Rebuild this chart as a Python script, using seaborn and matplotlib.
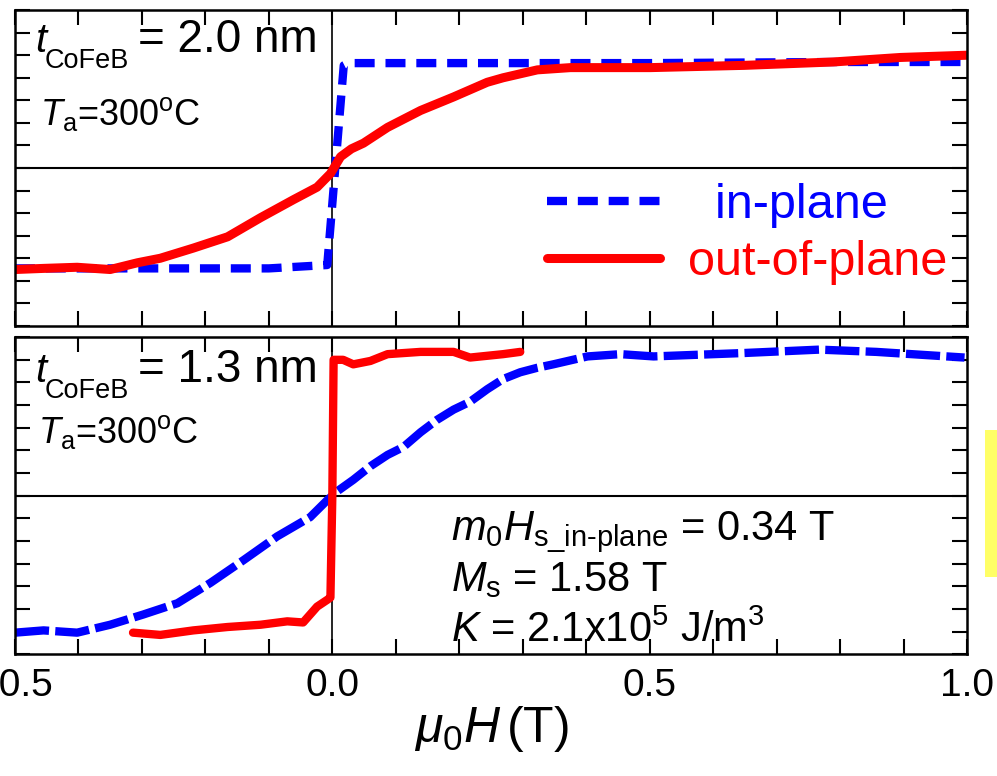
import numpy as np
import pandas as pd
import seaborn as sns
import matplotlib
matplotlib.use('Agg')
import matplotlib.pyplot as plt
from matplotlib.ticker import MultipleLocator
from matplotlib.patches import Rectangle

sns.set_style('ticks')
plt.rcParams['font.family'] = ['Liberation Sans', 'DejaVu Sans']
plt.rcParams['mathtext.fontset'] = 'custom'
plt.rcParams['mathtext.rm'] = 'Liberation Sans'
plt.rcParams['mathtext.it'] = 'Liberation Sans:italic'
plt.rcParams['axes.unicode_minus'] = True
for k in ['axes.edgecolor', 'xtick.color', 'ytick.color', 'text.color', 'axes.labelcolor']:
    plt.rcParams[k] = 'black'

# t_CoFeB = 2.0 nm
h_ip_20 = [-0.50, -0.30, -0.10, -0.008, 0.018, 0.025, 0.2, 0.5, 0.8, 1.0]
m_ip_20 = [-0.89, -0.89, -0.89, -0.86, 0.91, 0.93, 0.93, 0.93, 0.94, 0.94]
h_op_20 = [-0.50, -0.455, -0.402, -0.350, -0.307, -0.271, -0.219, -0.165, -0.113, -0.061,
           -0.024, -0.003, 0.013, 0.030, 0.049, 0.087, 0.139, 0.191, 0.244,
           0.269, 0.323, 0.375, 0.427, 0.501, 0.649, 0.789, 0.895, 1.0]
m_op_20 = [-0.90, -0.89, -0.88, -0.90, -0.84, -0.80, -0.71, -0.61, -0.44, -0.28,
           -0.17, -0.05, 0.10, 0.17, 0.22, 0.36, 0.51, 0.63, 0.76,
           0.80, 0.87, 0.89, 0.89, 0.89, 0.91, 0.94, 0.98, 1.00]

# t_CoFeB = 1.3 nm
h_ip_13 = [-0.50, -0.455, -0.402, -0.350, -0.298, -0.244, -0.192, -0.140, -0.087, -0.035,
           -0.008, 0.008, 0.033, 0.060, 0.087, 0.112, 0.139, 0.165, 0.191, 0.217,
           0.244, 0.269, 0.296, 0.323, 0.348, 0.402, 0.454, 0.506, 0.648, 0.767,
           0.857, 0.996]
m_ip_13 = [-1.21, -1.19, -1.21, -1.14, -1.05, -0.95, -0.77, -0.57, -0.36, -0.19,
           -0.04, 0.04, 0.14, 0.26, 0.36, 0.43, 0.56, 0.67, 0.76, 0.83,
           0.94, 1.03, 1.09, 1.13, 1.16, 1.23, 1.25, 1.23, 1.26, 1.29,
           1.27, 1.22]
h_op_13 = [-0.314, -0.271, -0.219, -0.165, -0.113, -0.071, -0.046, -0.024, -0.008, -0.003,
           0.0, 0.002, 0.017, 0.033, 0.060, 0.087, 0.139, 0.191, 0.217, 0.269, 0.296]
m_op_13 = [-1.21, -1.23, -1.19, -1.16, -1.14, -1.11, -1.12, -0.98, -0.92, -0.90,
           0.0, 1.20, 1.20, 1.16, 1.19, 1.25, 1.27, 1.27, 1.22, 1.25, 1.27]

x_ticks = [-0.5, 0.0, 0.5, 1.0]

fig = plt.figure(figsize=(9.97, 7.76), dpi=100)
ax1 = fig.add_axes([0.015, 0.580, 0.955, 0.407])
ax2 = fig.add_axes([0.015, 0.157, 0.955, 0.4085])

blue = '#0000ff'
red = '#ff0000'

sns.lineplot(x=h_ip_20, y=m_ip_20, ax=ax1, color=blue, lw=6, sort=False, estimator=None,
             linestyle=(0, (2.4, 1.3)), label='  in-plane')
sns.lineplot(x=h_op_20, y=m_op_20, ax=ax1, color=red, lw=6.5, sort=False, estimator=None,
             label='out-of-plane')
sns.lineplot(x=h_ip_13, y=m_ip_13, ax=ax2, color=blue, lw=6, sort=False, estimator=None,
             linestyle=(0, (4.1, 0.75)))
sns.lineplot(x=h_op_13, y=m_op_13, ax=ax2, color=red, lw=6, sort=False, estimator=None)

for ax in (ax1, ax2):
    ax.set_xlim(-0.5, 1.0)
    ax.set_ylim(-1.4, 1.4)
    ax.axhline(0, color='black', lw=1.5, zorder=1)
    ax.axvline(0, color='black', lw=1.2, zorder=1)
    ax.xaxis.set_major_locator(MultipleLocator(0.5))
    ax.xaxis.set_minor_locator(MultipleLocator(0.1))
    ax.yaxis.set_major_locator(MultipleLocator(0.2))
    ax.tick_params(which='both', direction='in', top=True, right=True, length=11, width=1.5)
    ax.set_yticklabels([])
    ax.set_ylabel('')
    for s in ax.spines.values():
        s.set_linewidth(1.8)

ax1.set_xticklabels([])
ax2.set_xticks(x_ticks)
ax2.set_xticklabels([f'{v:.1f}'.replace('-', '\u2212') for v in x_ticks])
ax2.tick_params(axis='x', labelsize=28, pad=10)
ax2.set_xlabel(r'$\mu_0H\,$(T)', fontsize=36, labelpad=0)

ax1.legend(loc='center left', bbox_to_anchor=(0.559, 0.291), frameon=False, fontsize=35,
           handlelength=2.32, handletextpad=0.58, labelspacing=0.26, borderpad=0,
           borderaxespad=0, labelcolor='linecolor')

# thickness labels: t, subscript, value
for ax, val, yb, ys in [(ax1, '= 2.0 nm', 0.867, 0.816), (ax2, '= 1.3 nm', 0.858, 0.808)]:
    ax.text(0.021, yb, 't', style='italic', transform=ax.transAxes, fontsize=29, va='baseline')
    ax.text(0.031, ys, 'CoFeB', transform=ax.transAxes, fontsize=19.5, va='baseline')
    ax.text(0.129, yb, val, transform=ax.transAxes, fontsize=33, va='baseline')

ax1.text(0.026, 0.636, r'$T_{\mathrm{a}}$=300$^{\mathrm{o}}$C', transform=ax1.transAxes,
         fontsize=26, va='baseline')
ax2.text(0.024, 0.666, r'$T_{\mathrm{a}}$=300$^{\mathrm{o}}$C', transform=ax2.transAxes,
         fontsize=26, va='baseline')

ax2.text(0.458, 0.36, r'$m_0H_{\mathrm{s\_in}\text{-}\mathrm{plane}}$ = 0.34 T', transform=ax2.transAxes,
         fontsize=30, va='baseline')
ax2.text(0.458, 0.20, r'$M_{\mathrm{s}}$ = 1.58 T', transform=ax2.transAxes,
         fontsize=30, va='baseline')
ax2.text(0.458, 0.038, r'$K$ = 2.1x10$^{5}$ J/m$^{3}$', transform=ax2.transAxes,
         fontsize=30, va='baseline')

fig.patches.append(Rectangle((0.988, 0.256), 0.02, 0.19, transform=fig.transFigure,
                             facecolor='#ffff66', edgecolor='none'))

fig.savefig('out.png', dpi=100)
